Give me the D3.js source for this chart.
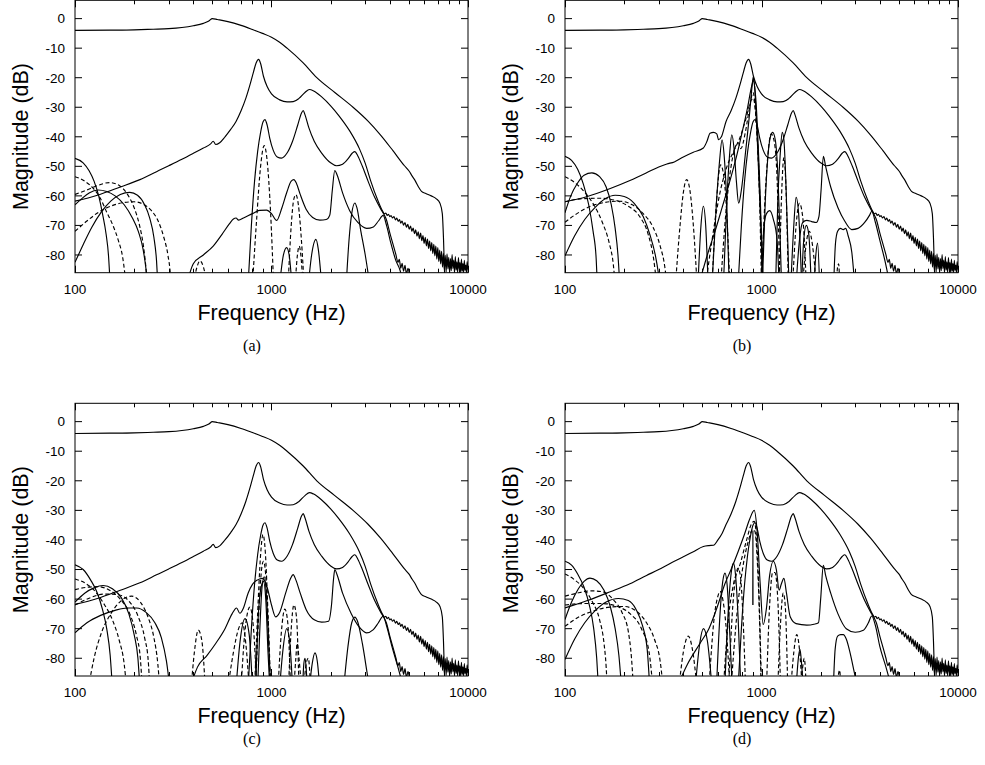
<!DOCTYPE html>
<html>
<head>
<meta charset="utf-8">
<script src="https://cdn.jsdelivr.net/npm/d3@7"></script>
<style>
body { margin: 0; background: #fff; }
text { font-family: "Liberation Sans", Arial, sans-serif; fill: #000; }
.caption { font-family: "Liberation Serif", "Times New Roman", serif; }
</style>
</head>
<body>
<div id="chart"></div>
<script>

// axis ticks
var xMajor = [100, 1000, 10000];
var xMinor = [200, 300, 400, 500, 600, 700, 800, 900, 2000, 3000, 4000, 5000, 6000, 7000, 8000, 9000];
var yTicks = [0, -10, -20, -30, -40, -50, -60, -70, -80];

// common curves [Hz, dB]
var envelope = [[100,-4],[150,-3.9],[200,-3.8],[250,-3.6],[300,-3.4],[350,-3],[400,-2.4],[450,-1.6],[480,-0.8],[500,0],
  [530,-0.3],[600,-1],[700,-2.3],[800,-3.7],[900,-5],[1000,-6.3],[1100,-8],[1200,-10],[1450,-15],[1700,-20],[2100,-25],
  [2600,-30],[3100,-34.7],[3600,-39.5],[4150,-44.7],[4750,-49.8],[5000,-51.5],[5200,-53.3],[5400,-55],[5600,-57],
  [5800,-58.5],[6100,-59.2],[6500,-60],[6900,-61],[7200,-62.5],[7400,-66],[7500,-74],[7600,-86],[7700,-90]];

var tractLowA = [[100,-61.8],[130,-59.8],[170,-57],[214,-54.5],[260,-51.8],[300,-49.8],[350,-47.6],[400,-45.6],[450,-43.8],
  [490,-42.4],[505,-41.5],[520,-42.6],[545,-42],[580,-40],[620,-37.5]];
var tractLowB = [[100,-62],[130,-60.2],[170,-57.5],[214,-54.8],[260,-52.2],[300,-50.2],[330,-49.2],[360,-48.5],[400,-46.8],
  [450,-45.2],[506,-43.8],[528,-41.5],[547,-38.8],[570,-38.5],[592,-39],[605,-41],[625,-40]];
var tractLowD = [[100,-63],[130,-60.5],[170,-57.5],[214,-54.8],[260,-52],[300,-50],[350,-47.6],[400,-45.7],[450,-44],
  [506,-42.2],[540,-41.9],[570,-41.8],[600,-40],[630,-37.8]];
var tractHigh = [[660,-34.8],[700,-31.2],[740,-27],[780,-22],[810,-18],[835,-15],[860,-13.8],[880,-15.2],[910,-19.5],
  [950,-23],[1000,-25.5],[1100,-27.5],[1200,-28.2],[1290,-28.1],[1380,-27],[1480,-25],[1560,-24],[1640,-24.5],
  [1800,-26.5],[2000,-29.5],[2200,-32.8],[2500,-38],[2800,-44],[3000,-49],[3200,-55],[3450,-61]];
var tractTail = [[3700,-65.5],[3760,-66.1],[3820,-65.8],[3880,-66.6],[3940,-66.2],[4000,-67],[4060,-66.7],[4130,-67.5],
  [4200,-67],[4270,-68.1],[4340,-67.5],[4410,-68.6],[4480,-68],[4550,-69.2],[4620,-68.5],[4700,-69.9],[4780,-69],
  [4860,-70.6],[4940,-69.6],[5020,-71.3],[5100,-70.2],[5180,-72],[5260,-70.9],[5340,-72.8],[5420,-71.5],[5500,-73.6],
  [5580,-72.2],[5660,-74.5],[5740,-72.6],[5820,-75.2],[5900,-73.4],[5980,-76.1],[6060,-74],[6140,-76.9],[6220,-74.6],
  [6300,-77.8],[6380,-75.3],[6460,-78.6],[6540,-75.8],[6620,-79.5],[6700,-76.4],[6780,-80.3],[6860,-77],[6940,-81.4],
  [7020,-77.5],[7100,-82.2],[7180,-78.3],[7260,-83],[7340,-78.8],[7420,-84.1],[7500,-79.4],[7580,-85],[7660,-80.1],
  [7740,-85.8],[7820,-79.6],[7900,-84.7],[7980,-80.8],[8060,-86],[8140,-81.2],[8220,-85.3],[8300,-79.9],[8380,-84.6],
  [8460,-81.7],[8540,-86],[8620,-80.5],[8700,-85.1],[8780,-82.3],[8860,-86],[8940,-80.9],[9020,-84.8],[9100,-82.6],
  [9180,-86],[9260,-81.4],[9340,-85.5],[9420,-82.9],[9500,-86],[9580,-81.8],[9660,-85.2],[9740,-83.4],[9820,-86],
  [9900,-82.2],[10000,-85]];

var formants = [[760,-90],[790,-70],[820,-55],[850,-45],[880,-38.5],[905,-35],[926,-34.2],[950,-36],[980,-40.5],
  [1020,-44.5],[1070,-46.8],[1124,-47.2],[1200,-45.5],[1280,-41.5],[1360,-36],[1420,-32],[1450,-31.1],[1480,-32.5],
  [1550,-37],[1650,-41.5],[1800,-45.5],[2000,-48.8],[2142,-49.8],[2300,-49.3],[2450,-47.5],[2580,-45.5],[2656,-45],
  [2750,-46.5],[2900,-50],[3100,-55],[3350,-60.5],[3600,-64.5],[3750,-66.5],[3840,-68],[4000,-72.5],[4200,-77.5],
  [4300,-80],[4400,-82.5],[4470,-81.5],[4550,-84.5],[4620,-82.8],[4700,-85.5],[4780,-83.5],[4860,-86.5],[4950,-84.5],
  [5050,-87],[5150,-90]];

// panel (a)
var panelA_solid = [
  [[370,-90],[400,-83],[450,-80],[505,-77],[560,-73],[610,-69.5],[640,-67.8],[660,-67.5],[680,-68.2],[720,-67.5],[800,-66],
   [870,-64.9],[944,-64.8],[1000,-66],[1062,-68.3],[1130,-64],[1200,-58.5],[1260,-55],[1300,-54.5],[1340,-55.8],[1400,-59.5],
   [1500,-64.5],[1620,-67.3],[1763,-68.2],[1900,-68],[1980,-66.5],[2040,-58],[2099,-51.4],[2160,-53],[2300,-59],[2500,-65],
   [2750,-69],[3050,-71],[3300,-70.5],[3500,-68.5],[3700,-66.6],[3850,-70],[4050,-76],[4300,-82],[4500,-85],[4700,-90]],
  [[2400,-90],[2480,-75],[2560,-66],[2656,-62.4],[2720,-64],[2850,-72],[3000,-80],[3162,-90]],
  [[1540,-90],[1600,-80],[1683,-74.7],[1730,-78],[1800,-90]],
  [[1100,-90],[1150,-80],[1194,-77.5],[1230,-80],[1270,-90]],
  [[100,-47.3],[110,-48.8],[118,-51.5],[125,-55],[132,-60],[138,-66],[144,-73],[148,-80],[151,-90]],
  [[100,-63],[108,-61],[118,-59],[131,-58],[145,-58.5],[160,-60],[178,-63],[196,-67.5],[210,-72],[222,-78],[230,-85],[234,-90]],
  [[100,-82.5],[110,-76.5],[122,-70.5],[136,-65.5],[152,-61.8],[170,-59.5],[190,-58.8],[208,-59.8],[226,-63],[240,-67.5],
   [252,-74],[260,-82],[264,-90]]
];
var panelA_dashed = [
  [[800,-90],[840,-68],[880,-50],[918,-43],[950,-48],[990,-66],[1025,-90]],
  [[1215,-90],[1260,-70],[1300,-61],[1331,-59.6],[1370,-63],[1420,-75],[1465,-90]],
  [[1320,-90],[1355,-80],[1383,-77],[1410,-80],[1445,-90]],
  [[400,-90],[418,-84],[432,-82],[450,-84],[470,-90]],
  [[100,-53.5],[112,-55],[124,-57.5],[135,-61],[145,-65.5],[156,-70],[166,-75],[175,-81],[182,-90]],
  [[100,-59.5],[115,-58],[130,-56.5],[150,-55.5],[168,-56.5],[185,-59.5],[200,-64],[213,-70],[223,-77],[230,-85],[233,-90]],
  [[100,-72],[115,-68.5],[132,-65.5],[152,-63.5],[175,-62.3],[200,-62],[222,-62.8],[245,-65],[265,-68.5],[283,-74],
   [297,-80],[306,-87],[308,-90]]
];

// panel (b)
var panelB_solid = [
  [[1500,-90],[1560,-75],[1620,-69],[1700,-68.3],[1800,-68.7],[1900,-69],[1960,-67],[2010,-58],[2065,-46.6],[2120,-50],
   [2250,-57],[2450,-64],[2650,-68.5],[2877,-71.4],[3100,-71],[3350,-69],[3550,-66.5],[3640,-65.2],[3800,-69],[4000,-75],
   [4250,-82],[4500,-90]],
  [[2330,-90],[2380,-76],[2440,-72],[2520,-71],[2608,-71.4],[2680,-71],[2760,-73.5],[2880,-79],[2980,-90]],
  [[475,-90],[492,-70],[506,-63.5],[520,-70],[535,-90]],
  [[560,-90],[590,-62],[612,-48],[630,-41],[645,-46],[665,-62],[685,-90]],
  [[640,-90],[668,-60],[690,-45],[706,-39.3],[725,-44],[745,-55],[765,-62.5],[790,-58],[830,-45],[870,-32],[895,-23],
   [908,-19.7],[922,-23],[945,-36],[975,-58],[1000,-75],[1020,-90]],
  [[480,-90],[530,-80],[580,-72],[630,-64],[690,-55],[750,-46],[800,-38],[850,-30],[890,-23],[910,-21],[935,-27],
   [965,-45],[995,-70],[1010,-90]],
  [[1010,-90],[1045,-62],[1080,-46],[1110,-40],[1140,-38.5],[1175,-41],[1210,-52],[1245,-75],[1265,-90]],
  [[1180,-90],[1210,-62],[1245,-46],[1275,-38.5],[1300,-41],[1330,-55],[1360,-75],[1380,-90]],
  [[1000,-90],[1030,-70],[1060,-66],[1100,-65],[1150,-68],[1200,-75],[1230,-90]],
  [[1410,-90],[1460,-70],[1500,-60.5],[1545,-66],[1600,-90]],
  [[1600,-90],[1640,-75],[1690,-70],[1740,-73],[1790,-90]],
  [[1850,-90],[1890,-80],[1930,-76],[1975,-90]],
  [[100,-46.6],[108,-48],[116,-51],[124,-56],[132,-63],[139,-72],[144,-81],[146,-90]],
  [[100,-65.7],[107,-60],[115,-56],[125,-53],[137,-52.2],[150,-53.5],[162,-57],[172,-63],[180,-71],[186,-80],[190,-90]],
  [[100,-80.3],[112,-73.5],[126,-68],[142,-64],[160,-61],[180,-59.8],[200,-60.2],[225,-62.5],[250,-67],[270,-73],
   [288,-80],[300,-87],[304,-90]]
];
var panelB_dashed = [
  [[365,-90],[385,-70],[400,-59],[416,-54.5],[432,-58],[450,-70],[470,-90]],
  [[560,-90],[590,-62],[619,-49.5],[645,-54],[670,-70],[690,-90]],
  [[620,-90],[660,-65],[700,-50],[740,-43],[761,-42],[785,-44],[830,-38],[870,-30],[905,-25],[935,-32],[970,-52],
   [1000,-78],[1010,-90]],
  [[520,-90],[560,-75],[610,-60],[660,-51],[720,-45],[780,-40],[840,-33],[880,-28],[908,-27],[940,-35],[975,-58],[1000,-90]],
  [[1000,-90],[1035,-65],[1075,-47],[1120,-39],[1160,-41.5],[1200,-54],[1240,-90]],
  [[1230,-90],[1265,-60],[1300,-47],[1330,-56],[1370,-90]],
  [[1440,-90],[1500,-70],[1560,-62.5],[1620,-67],[1690,-90]],
  [[1620,-90],[1690,-76],[1750,-72],[1820,-77],[1900,-90]],
  [[2400,-90],[2440,-84],[2470,-83],[2500,-90]],
  [[100,-53.5],[112,-55.5],[125,-58.5],[140,-63],[155,-69],[168,-76],[176,-83],[180,-90]],
  [[100,-68.9],[115,-66],[135,-63.5],[160,-62.2],[190,-61.8],[220,-63],[250,-66],[280,-70.5],[305,-77],[322,-84],[330,-90]],
  [[100,-62],[120,-61],[150,-60.8],[180,-61.5],[210,-63.5],[240,-67],[265,-73],[282,-81],[293,-90]]
];

// panel (c)
var panelC_solid = [
  [[385,-90],[420,-83],[470,-79],[520,-75],[580,-70],[630,-65],[664,-63],[690,-64.8],[720,-63],[760,-58],[800,-55],
   [850,-53.5],[900,-53],[950,-56],[1000,-62],[1050,-66],[1100,-64.5],[1180,-58],[1250,-53],[1289,-51.7],[1330,-53.5],
   [1400,-58],[1500,-63.5],[1650,-67],[1800,-67.8],[1950,-67.5],[2020,-62],[2070,-53],[2100,-50],[2150,-51.5],[2300,-58],
   [2550,-65],[2800,-69.5],[3040,-71.4],[3300,-70.3],[3500,-68],[3700,-65.8],[3850,-69],[4100,-76],[4400,-83],[4700,-90]],
  [[2330,-90],[2450,-76],[2560,-68],[2656,-66.1],[2740,-67.5],[2900,-75],[3050,-84],[3150,-90]],
  [[1100,-90],[1140,-78],[1195,-70],[1240,-75],[1280,-90]],
  [[1560,-90],[1610,-82],[1664,-78.2],[1710,-81],[1760,-90]],
  [[1440,-90],[1460,-82],[1480,-80],[1500,-83],[1520,-90]],
  [[660,-90],[690,-75],[733,-66.6],[770,-72],[800,-90]],
  [[830,-90],[850,-70],[880,-57],[910,-54],[935,-60],[960,-78],[980,-90]],
  [[850,-90],[870,-72],[895,-56],[918,-52.5],[945,-60],[975,-80],[990,-90]],
  [[100,-48.4],[110,-50],[120,-53.5],[130,-58],[138,-63.5],[145,-70],[151,-79],[155,-90]],
  [[100,-61],[112,-58],[125,-56.2],[139,-55.4],[155,-56.5],[172,-59.5],[188,-65],[200,-72],[209,-80],[214,-90]],
  [[100,-71.4],[115,-68],[135,-65.5],[160,-63.8],[185,-63],[206,-63],[230,-64.5],[255,-68],[275,-73],[292,-81],[304,-90]]
];
var panelC_dashed = [
  [[390,-90],[405,-78],[424,-70.5],[442,-74],[460,-90]],
  [[700,-90],[730,-72],[776,-62.7],[810,-70],[840,-90]],
  [[820,-90],[850,-65],[880,-45],[905,-38.2],[930,-44],[960,-65],[990,-90]],
  [[830,-90],[860,-66],[890,-50],[910,-47.2],[935,-52],[965,-72],[985,-90]],
  [[1080,-90],[1120,-72],[1170,-63.4],[1210,-68],[1250,-90]],
  [[1220,-90],[1260,-70],[1300,-62],[1340,-66],[1380,-90]],
  [[1300,-90],[1330,-80],[1350,-75],[1380,-80],[1420,-90]],
  [[600,-90],[640,-78],[680,-70],[710,-68],[740,-75],[770,-90]],
  [[1460,-90],[1500,-82],[1540,-80],[1580,-90]],
  [[100,-53.2],[112,-54.5],[125,-57],[140,-61.5],[155,-67],[168,-74],[178,-82],[183,-90]],
  [[100,-56.8],[115,-56],[130,-55.8],[150,-57],[170,-60],[190,-65],[205,-72],[215,-80],[220,-90]],
  [[117,-90],[125,-80],[137,-71],[152,-65],[172,-60.5],[194,-59],[215,-61],[235,-66],[252,-73],[264,-82],[270,-90]],
  [[100,-62],[120,-59.5],[140,-58.3],[165,-58.5],[190,-61],[210,-66],[226,-73],[236,-81],[240,-90]]
];

// panel (d)
var panelD_solid = [
  [[370,-90],[420,-82],[486,-75],[540,-70],[600,-62],[650,-55],[700,-50],[760,-44],[820,-38],[870,-33],[918,-30],
   [950,-37],[985,-55],[1020,-68.6],[1060,-63],[1100,-52],[1148,-47.2],[1190,-50],[1230,-57],[1260,-55],[1300,-53],
   [1340,-58],[1400,-66],[1500,-68.3],[1700,-68.8],[1850,-68.5],[1950,-68],[2000,-60],[2064,-48.6],[2120,-52],
   [2250,-58],[2450,-65],[2700,-70],[3000,-71.2],[3300,-70.5],[3500,-68],[3640,-65.7],[3800,-69],[4000,-76],
   [4300,-83],[4600,-90]],
  [[2320,-90],[2370,-77],[2440,-72.5],[2530,-72],[2608,-72],[2700,-73.5],[2820,-78],[2950,-84],[3080,-90]],
  [[460,-90],[485,-75],[506,-70],[530,-74],[560,-90]],
  [[590,-90],[615,-65],[635,-54],[652,-51.2],[668,-55],[690,-72],[710,-90]],
  [[650,-90],[680,-62],[705,-50],[720,-47.8],[738,-52],[760,-66],[785,-90]],
  [[903,-62],[904,-37],[905,-62]],
  [[1500,-90],[1540,-80],[1570,-77],[1600,-82],[1630,-90]],
  [[100,-47.2],[108,-48.5],[116,-51.5],[125,-56],[133,-62],[140,-70],[145,-80],[148,-90]],
  [[100,-66.9],[108,-61],[117,-56.5],[125,-54],[134,-52.9],[145,-53.8],[158,-57],[170,-62.5],[180,-70],[188,-79],[194,-90]],
  [[100,-80.4],[112,-73.5],[126,-68],[142,-64],[162,-61],[187,-59.8],[210,-60.5],[230,-63.5],[248,-69],[262,-77],[270,-90]]
];
var panelD_dashed = [
  [[380,-90],[400,-78],[424,-72.5],[445,-77],[470,-90]],
  [[680,-90],[715,-62],[745,-51],[760,-49.5],[780,-52],[805,-66],[830,-90]],
  [[540,-90],[575,-66],[600,-59],[615,-57.4],[635,-60],[665,-72],[690,-90]],
  [[640,-90],[680,-66],[720,-55],[780,-48],[840,-40],[890,-34.5],[918,-33.7],[945,-40],[975,-62],[1000,-90]],
  [[700,-90],[750,-65],[800,-50],[860,-40],[900,-36.5],[925,-37],[950,-46],[980,-70],[995,-90]],
  [[1060,-90],[1100,-62],[1140,-51],[1170,-51],[1210,-60],[1250,-90]],
  [[1210,-90],[1250,-68],[1290,-58],[1320,-62],[1360,-90]],
  [[1410,-90],[1460,-78],[1511,-72],[1560,-77],[1610,-90]],
  [[1580,-90],[1620,-83],[1650,-80],[1690,-90]],
  [[2440,-90],[2470,-85],[2500,-84],[2530,-90]],
  [[100,-51.5],[112,-53.5],[125,-56.5],[138,-61],[150,-67],[158,-75],[162,-83],[164,-90]],
  [[100,-59],[115,-58],[135,-57.2],[155,-57.5],[175,-60],[195,-64.5],[210,-71],[218,-80],[223,-90]],
  [[100,-69.2],[118,-66],[140,-64],[165,-62.8],[200,-62.5],[230,-64],[260,-68],[285,-73.5],[305,-81],[316,-90]],
  [[100,-62],[125,-61.5],[155,-61.5],[185,-62.5],[215,-65],[245,-70],[268,-78],[280,-90]]
];

var width = 985, height = 765;

var svg = d3.select("#chart").append("svg")
    .attr("width", width)
    .attr("height", height);

var panels = [
  {name: "a", left: 75,  right: 468, top: 0.3,   bottom: 272.7, capX: 252, capY: 351, tract: tractLowA, solid: panelA_solid, dashed: panelA_dashed},
  {name: "b", left: 565, right: 958, top: 0.3,   bottom: 272.7, capX: 742, capY: 351, tract: tractLowB, solid: panelB_solid, dashed: panelB_dashed},
  {name: "c", left: 75,  right: 468, top: 403.3, bottom: 676,   capX: 252, capY: 744, tract: tractLowA, solid: panelC_solid, dashed: panelC_dashed},
  {name: "d", left: 565, right: 958, top: 403.3, bottom: 676,   capX: 742, capY: 744, tract: tractLowD, solid: panelD_solid, dashed: panelD_dashed}
];

panels.forEach(function(p) {
  var x = d3.scaleLog().domain([100, 10000]).range([p.left, p.right]);
  var y = d3.scaleLinear().domain([-86, 6.2]).range([p.bottom, p.top]);
  var g = svg.append("g");

  g.append("clipPath").attr("id", "clip-" + p.name)
    .append("rect")
      .attr("x", p.left).attr("y", p.top)
      .attr("width", p.right - p.left).attr("height", p.bottom - p.top);

  var line = d3.line()
      .x(function(d) { return x(d[0]); })
      .y(function(d) { return y(d[1]); })
      .curve(d3.curveMonotoneX);

  // all curves of the panel
  var curves = [];
  curves.push({pts: envelope, dash: false});
  curves.push({pts: p.tract.concat(tractHigh, tractTail), dash: false});
  curves.push({pts: formants, dash: false});
  p.solid.forEach(function(c) { curves.push({pts: c, dash: false}); });
  p.dashed.forEach(function(c) { curves.push({pts: c, dash: true}); });

  g.append("g")
      .attr("clip-path", "url(#clip-" + p.name + ")")
    .selectAll("path")
    .data(curves)
    .enter().append("path")
      .attr("d", function(d) { return line(d.pts); })
      .attr("fill", "none")
      .attr("stroke", "#000")
      .attr("stroke-width", 1.15)
      .attr("stroke-dasharray", function(d) { return d.dash ? "4,2.5" : null; });

  // ticks, drawn inward on all four sides
  var tickG = g.append("g").attr("stroke", "#000").attr("stroke-width", 1);
  xMajor.concat(xMinor).forEach(function(v) {
    var len = xMajor.indexOf(v) >= 0 ? 7 : 4;
    var xx = Math.round(x(v)) + 0.5;
    tickG.append("line").attr("x1", xx).attr("x2", xx).attr("y1", p.bottom).attr("y2", p.bottom - len);
    tickG.append("line").attr("x1", xx).attr("x2", xx).attr("y1", p.top).attr("y2", p.top + len);
  });
  yTicks.forEach(function(v) {
    var yy = y(v);
    tickG.append("line").attr("x1", p.left).attr("x2", p.left + 7).attr("y1", yy).attr("y2", yy);
    tickG.append("line").attr("x1", p.right).attr("x2", p.right - 7).attr("y1", yy).attr("y2", yy);
  });

  // frame
  g.append("rect")
      .attr("x", p.left).attr("y", p.top)
      .attr("width", p.right - p.left).attr("height", p.bottom - p.top)
      .attr("fill", "none").attr("stroke", "#000").attr("stroke-width", 1);

  // tick labels
  g.selectAll(".ylab").data(yTicks).enter().append("text")
      .attr("x", p.left - 10)
      .attr("y", function(d) { return y(d); })
      .attr("dy", "0.36em")
      .attr("text-anchor", "end")
      .style("font-size", "13.5px")
      .text(function(d) { return d; });
  g.selectAll(".xlab").data(xMajor).enter().append("text")
      .attr("x", function(d) { return x(d); })
      .attr("y", p.bottom + 21)
      .attr("text-anchor", "middle")
      .style("font-size", "13.5px")
      .text(function(d) { return d; });

  // axis titles
  g.append("text")
      .attr("x", (p.left + p.right) / 2)
      .attr("y", p.bottom + 47.3)
      .attr("text-anchor", "middle")
      .style("font-size", "21.5px")
      .text("Frequency (Hz)");
  g.append("text")
      .attr("transform", "translate(" + (p.left - 47) + "," + ((p.top + p.bottom) / 2) + ") rotate(-90)")
      .attr("text-anchor", "middle")
      .style("font-size", "21.5px")
      .text("Magnitude (dB)");

  g.append("text")
      .attr("class", "caption")
      .attr("x", p.capX)
      .attr("y", p.capY)
      .attr("text-anchor", "middle")
      .style("font-size", "16px")
      .text("(" + p.name + ")");
});

</script>
</body>
</html>
